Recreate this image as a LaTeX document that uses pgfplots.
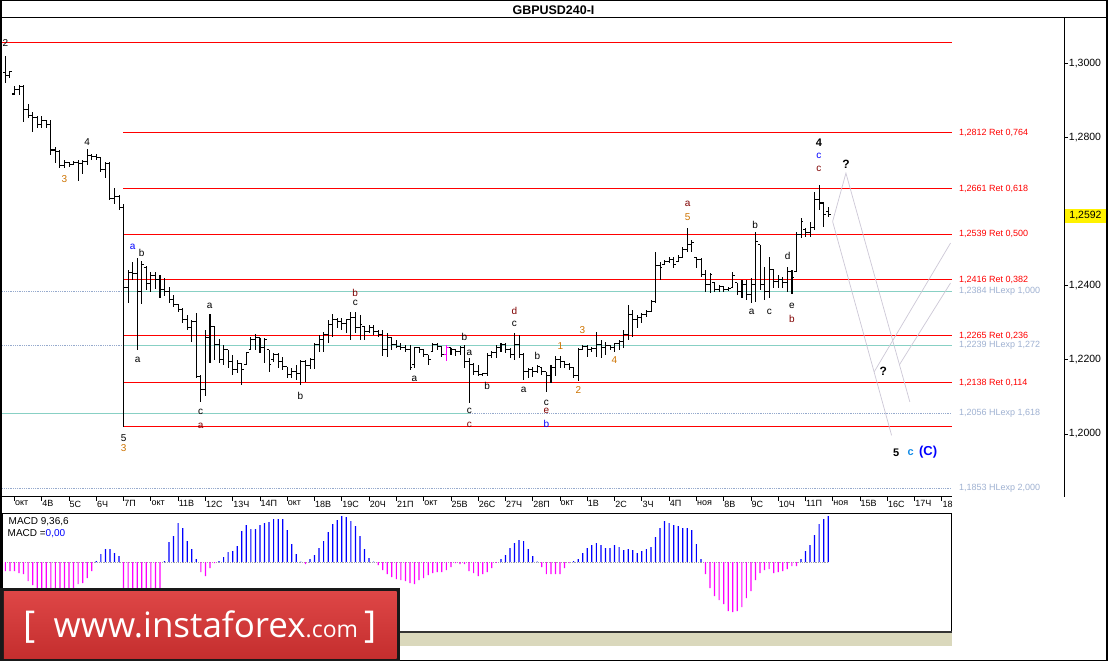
\documentclass[border=0pt]{standalone}
\usepackage{pgfplots}
\pgfplotsset{compat=1.18}
\usepackage{pgfplotstable}
\usepackage{fontspec}
\setmainfont{Liberation Sans}
\newfontfamily\logofont{Open Sans}

\definecolor{fib}{RGB}{255,0,0}
\definecolor{hlx}{RGB}{160,178,210}
\definecolor{teal2}{RGB}{136,208,196}
\definecolor{dotb}{RGB}{150,170,205}
\definecolor{drk}{RGB}{128,0,0}
\definecolor{org}{RGB}{205,115,0}
\definecolor{fc}{RGB}{205,200,215}
\definecolor{mblue}{RGB}{0,0,255}
\definecolor{mmag}{RGB}{255,0,255}
\definecolor{dodg}{RGB}{20,140,230}
\definecolor{logotop}{RGB}{222,70,70}
\definecolor{logobot}{RGB}{196,46,46}
\definecolor{strip}{RGB}{218,216,188}

\newcommand\fs[1]{\fontsize{#1}{#1}\selectfont}
\pgfdeclareplotmark{otick}{\pgfpathmoveto{\pgfqpoint{-2.3pt}{0pt}}\pgfpathlineto{\pgfqpoint{0pt}{0pt}}\pgfusepathqstroke}
\pgfdeclareplotmark{ctick}{\pgfpathmoveto{\pgfqpoint{0pt}{0pt}}\pgfpathlineto{\pgfqpoint{2.3pt}{0pt}}\pgfusepathqstroke}
\newcommand\wl[4]{\node[inner sep=0pt,font=\fs{10},text=black,#3] at (axis cs:{(#1-14)/4.55},{1.31706-#2/3710.7}) {#4};}
\newcommand\fibl[3]{\node[anchor=west,inner sep=0pt,font=\fs{9},text=#3] at (axis cs:207.7,#1) {#2};}

\pgfplotstableread{
i o h l c
-2 1.2974 1.3020 1.2947 1.2966
-1 1.2966 1.2979 1.2960 1.2977
0 1.2917 1.2939 1.2915 1.2928
1 1.2928 1.2942 1.2915 1.2936
2 1.2936 1.2942 1.2842 1.2874
3 1.2874 1.2890 1.2853 1.2858
4 1.2858 1.2869 1.2815 1.2853
5 1.2853 1.2858 1.2826 1.2836
6 1.2836 1.2858 1.2826 1.2845
7 1.2845 1.2847 1.2826 1.2836
8 1.2836 1.2847 1.2753 1.2766
9 1.2766 1.2774 1.2731 1.2761
10 1.2761 1.2766 1.2718 1.2723
11 1.2723 1.2739 1.2718 1.2731
12 1.2731 1.2734 1.2721 1.2726
13 1.2726 1.2737 1.2726 1.2731
14 1.2731 1.2739 1.2683 1.2729
15 1.2729 1.2739 1.2702 1.2734
16 1.2734 1.2769 1.2726 1.2750
17 1.2750 1.2756 1.2739 1.2748
18 1.2748 1.2756 1.2739 1.2745
19 1.2745 1.2748 1.2707 1.2713
20 1.2713 1.2734 1.2691 1.2729
21 1.2729 1.2734 1.2632 1.2634
22 1.2634 1.2664 1.2621 1.2640
23 1.2640 1.2645 1.2605 1.2610
24 1.2610 1.2621 1.2020 1.2394
25 1.2394 1.2443 1.2354 1.2435
26 1.2435 1.2465 1.2416 1.2432
27 1.2432 1.2475 1.2227 1.2384
28 1.2384 1.2467 1.2351 1.2456
29 1.2448 1.2454 1.2389 1.2405
30 1.2405 1.2438 1.2384 1.2427
31 1.2427 1.2438 1.2392 1.2416
32 1.2416 1.2430 1.2368 1.2389
33 1.2389 1.2421 1.2373 1.2384
34 1.2384 1.2397 1.2354 1.2362
35 1.2362 1.2376 1.2343 1.2349
36 1.2349 1.2351 1.2330 1.2335
37 1.2335 1.2341 1.2300 1.2308
38 1.2308 1.2322 1.2281 1.2287
39 1.2287 1.2308 1.2249 1.2303
40 1.2303 1.2327 1.2152 1.2155
41 1.2155 1.2160 1.2087 1.2120
42 1.2120 1.2281 1.2103 1.2260
43 1.2260 1.2324 1.2192 1.2289
44 1.2289 1.2289 1.2200 1.2241
45 1.2241 1.2257 1.2192 1.2200
46 1.2200 1.2241 1.2187 1.2227
47 1.2227 1.2227 1.2179 1.2195
48 1.2195 1.2214 1.2160 1.2173
49 1.2173 1.2200 1.2165 1.2190
50 1.2190 1.2192 1.2133 1.2173
51 1.2187 1.2219 1.2187 1.2219
52 1.2227 1.2262 1.2227 1.2254
53 1.2254 1.2270 1.2227 1.2260
54 1.2260 1.2260 1.2219 1.2233
55 1.2233 1.2260 1.2192 1.2254
56 1.2227 1.2227 1.2168 1.2187
57 1.2200 1.2219 1.2195 1.2214
58 1.2214 1.2219 1.2179 1.2195
59 1.2195 1.2208 1.2173 1.2181
60 1.2181 1.2181 1.2152 1.2160
61 1.2160 1.2179 1.2152 1.2168
62 1.2168 1.2187 1.2146 1.2163
63 1.2163 1.2200 1.2133 1.2195
64 1.2195 1.2200 1.2141 1.2184
65 1.2184 1.2206 1.2176 1.2200
66 1.2200 1.2246 1.2176 1.2241
67 1.2241 1.2268 1.2222 1.2254
68 1.2254 1.2276 1.2222 1.2268
69 1.2268 1.2308 1.2246 1.2295
70 1.2295 1.2324 1.2262 1.2308
71 1.2308 1.2314 1.2287 1.2303
72 1.2303 1.2314 1.2281 1.2297
73 1.2297 1.2308 1.2273 1.2308
74 1.2308 1.2330 1.2254 1.2314
75 1.2314 1.2330 1.2273 1.2287
76 1.2287 1.2322 1.2254 1.2295
77 1.2289 1.2289 1.2254 1.2276
78 1.2276 1.2295 1.2273 1.2287
79 1.2287 1.2295 1.2268 1.2276
80 1.2276 1.2281 1.2262 1.2268
81 1.2268 1.2281 1.2211 1.2227
82 1.2227 1.2273 1.2208 1.2260
83 1.2260 1.2262 1.2227 1.2241
84 1.2241 1.2254 1.2233 1.2235
85 1.2235 1.2246 1.2227 1.2233
86 1.2233 1.2241 1.2222 1.2227
87 1.2227 1.2241 1.2173 1.2179
88 1.2187 1.2235 1.2179 1.2233
89 1.2233 1.2235 1.2219 1.2227
90 1.2227 1.2227 1.2208 1.2214
91 1.2214 1.2214 1.2187 1.2200
92 1.2222 1.2246 1.2222 1.2241
93 1.2241 1.2246 1.2227 1.2235
94 1.2235 1.2235 1.2208 1.2214
96 1.2233 1.2233 1.2214 1.2227
97 1.2227 1.2227 1.2211 1.2222
98 1.2222 1.2238 1.2214 1.2233
99 1.2233 1.2241 1.2179 1.2195
100 1.2195 1.2206 1.2084 1.2187
101 1.2187 1.2192 1.2160 1.2168
102 1.2168 1.2187 1.2157 1.2160
103 1.2160 1.2165 1.2157 1.2163
104 1.2163 1.2219 1.2157 1.2211
105 1.2211 1.2225 1.2206 1.2219
106 1.2219 1.2241 1.2206 1.2233
107 1.2233 1.2246 1.2222 1.2241
108 1.2241 1.2246 1.2219 1.2227
109 1.2227 1.2233 1.2206 1.2214
110 1.2214 1.2273 1.2200 1.2241
111 1.2241 1.2268 1.2206 1.2214
112 1.2214 1.2219 1.2146 1.2168
113 1.2168 1.2179 1.2152 1.2173
114 1.2173 1.2181 1.2155 1.2168
115 1.2168 1.2187 1.2165 1.2181
116 1.2179 1.2179 1.2160 1.2168
117 1.2168 1.2168 1.2112 1.2157
118 1.2157 1.2187 1.2138 1.2179
119 1.2179 1.2211 1.2157 1.2200
120 1.2200 1.2211 1.2179 1.2195
121 1.2195 1.2195 1.2179 1.2187
122 1.2187 1.2192 1.2173 1.2179
123 1.2179 1.2181 1.2152 1.2157
124 1.2157 1.2233 1.2144 1.2227
125 1.2227 1.2241 1.2227 1.2235
126 1.2235 1.2241 1.2208 1.2227
127 1.2227 1.2235 1.2222 1.2230
128 1.2230 1.2276 1.2208 1.2241
129 1.2241 1.2254 1.2206 1.2233
130 1.2233 1.2249 1.2214 1.2238
131 1.2238 1.2241 1.2227 1.2233
132 1.2233 1.2246 1.2222 1.2243
133 1.2243 1.2254 1.2227 1.2249
134 1.2249 1.2281 1.2233 1.2268
135 1.2268 1.2349 1.2254 1.2322
136 1.2322 1.2335 1.2262 1.2308
137 1.2308 1.2322 1.2287 1.2314
138 1.2314 1.2327 1.2300 1.2322
139 1.2322 1.2335 1.2316 1.2330
140 1.2330 1.2362 1.2330 1.2357
141 1.2357 1.2492 1.2354 1.2454
142 1.2454 1.2465 1.2416 1.2448
143 1.2456 1.2470 1.2456 1.2465
144 1.2465 1.2478 1.2462 1.2470
145 1.2470 1.2478 1.2448 1.2456
146 1.2465 1.2483 1.2465 1.2475
147 1.2475 1.2505 1.2475 1.2497
148 1.2497 1.2556 1.2491 1.2510
149 1.2510 1.2524 1.2491 1.2516
150 1.2475 1.2475 1.2448 1.2470
151 1.2470 1.2475 1.2424 1.2430
152 1.2430 1.2443 1.2384 1.2402
153 1.2402 1.2435 1.2381 1.2430
154 1.2408 1.2408 1.2384 1.2389
155 1.2389 1.2402 1.2384 1.2397
156 1.2397 1.2397 1.2384 1.2389
157 1.2389 1.2397 1.2386 1.2392
158 1.2394 1.2438 1.2394 1.2427
159 1.2408 1.2408 1.2376 1.2384
160 1.2384 1.2416 1.2368 1.2402
161 1.2402 1.2416 1.2362 1.2376
162 1.2376 1.2421 1.2354 1.2402
163 1.2402 1.2545 1.2357 1.2518
164 1.2510 1.2510 1.2389 1.2402
165 1.2402 1.2451 1.2362 1.2384
166 1.2384 1.2478 1.2368 1.2443
167 1.2443 1.2443 1.2394 1.2411
168 1.2411 1.2430 1.2394 1.2416
169 1.2416 1.2424 1.2394 1.2408
170 1.2408 1.2451 1.2384 1.2438
171 1.2438 1.2443 1.2378 1.2421
172 1.2438 1.2545 1.2438 1.2537
173 1.2537 1.2583 1.2529 1.2572
174 1.2551 1.2556 1.2532 1.2543
175 1.2543 1.2572 1.2532 1.2556
176 1.2556 1.2653 1.2551 1.2632
177 1.2632 1.2672 1.2605 1.2623
178 1.2623 1.2623 1.2559 1.2591
179 1.2599 1.2613 1.2586 1.2592
}\ohlc

\pgfplotstableread{
i o h l c
95 1.2214 1.2241 1.2198 1.2233
}\ohlcm

\begin{document}
\begin{tikzpicture}[x=1pt,y=1pt]
\fill[white] (0pt,0pt) rectangle (1108pt,662pt);

% ---------------- main price panel ----------------
\begin{axis}[
  at={(2pt,165pt)}, anchor=south west, scale only axis,
  width=1063pt, height=479pt,
  xmin=-2.637, xmax=230.99, ymin=1.18312, ymax=1.31221,
  axis x line=none, axis y line*=right,
  y axis line style={-, black, line width=1pt},
  ytick={1.20,1.22,1.24,1.28,1.30},
  tick align=outside, major tick length=3pt,
  ytick style={black, line width=0.8pt},
  yticklabel={\pgfmathprintnumber[fixed,fixed zerofill,precision=4,use comma,assume math mode=true]{\tick}},
  yticklabel style={font=\fs{10.5}, inner sep=0pt, anchor=west, xshift=1pt},
  clip=false,
]
\addplot[dotb, densely dotted, line width=0.8pt] coordinates {(-2.637,1.2384) (206.15,1.2384)};
\addplot[dotb, densely dotted, line width=0.8pt] coordinates {(-2.637,1.2239) (206.15,1.2239)};
\addplot[dotb, densely dotted, line width=0.8pt] coordinates {(-2.637,1.2056) (206.15,1.2056)};
\addplot[dotb, densely dotted, line width=0.8pt] coordinates {(-2.637,1.1853) (206.15,1.1853)};
\addplot[teal2, line width=1pt] coordinates {(23.96,1.2384) (206.15,1.2384)};
\addplot[teal2, line width=1pt] coordinates {(23.96,1.2239) (206.15,1.2239)};
\addplot[teal2, line width=1pt] coordinates {(-2.637,1.2056) (100.2,1.2056)};
\addplot[fib, line width=1pt] coordinates {(-2.637,1.3055) (206.15,1.3055)};
\addplot[fib, line width=1pt] coordinates {(23.96,1.2812) (206.15,1.2812)};
\addplot[fib, line width=1pt] coordinates {(23.96,1.2661) (206.15,1.2661)};
\addplot[fib, line width=1pt] coordinates {(23.96,1.2539) (206.15,1.2539)};
\addplot[fib, line width=1pt] coordinates {(23.96,1.2416) (206.15,1.2416)};
\addplot[fib, line width=1pt] coordinates {(23.96,1.2265) (206.15,1.2265)};
\addplot[fib, line width=1pt] coordinates {(23.96,1.2138) (206.15,1.2138)};
\addplot[fib, line width=1pt] coordinates {(23.96,1.2020) (206.15,1.2020)};
\addplot[fc, line width=0.7pt] coordinates {(179.93,1.25731) (182.86,1.27036) (196.92,1.20864)};
\addplot[fc, line width=0.7pt] coordinates {(179.93,1.25731) (192.9,1.19964)};
\addplot[fc, line width=0.7pt] coordinates {(189.1,1.21681) (205.86,1.25149)};
\addplot[fc, line width=0.7pt] coordinates {(194.64,1.21870) (205.86,1.24071)};
\addplot[only marks, mark=otick, black, line width=1.05pt,
  error bars/.cd, y dir=both, y explicit, error mark=none,
  error bar style={black, solid, line width=1.05pt}]
  table[x=i, y=o, y error plus expr=\thisrow{h}-\thisrow{o}, y error minus expr=\thisrow{o}-\thisrow{l}] {\ohlc};
\addplot[only marks, mark=ctick, black, line width=1.05pt] table[x=i, y=c] {\ohlc};
\addplot[only marks, mark=otick, mmag, line width=1.05pt,
  error bars/.cd, y dir=both, y explicit, error mark=none,
  error bar style={mmag, solid, line width=1.05pt}]
  table[x=i, y=o, y error plus expr=\thisrow{h}-\thisrow{o}, y error minus expr=\thisrow{o}-\thisrow{l}] {\ohlcm};
\addplot[only marks, mark=ctick, mmag, line width=1.05pt] table[x=i, y=c] {\ohlcm};

\fibl{1.2812}{1,2812 Ret 0,764}{fib}
\fibl{1.2661}{1,2661 Ret 0,618}{fib}
\fibl{1.2539}{1,2539 Ret 0,500}{fib}
\fibl{1.2416}{1,2416 Ret 0,382}{fib}
\fibl{1.2384}{1,2384 HLexp 1,000}{hlx}
\fibl{1.2265}{1,2265 Ret 0,236}{fib}
\fibl{1.2239}{1,2239 HLexp 1,272}{hlx}
\fibl{1.2138}{1,2138 Ret 0,114}{fib}
\fibl{1.2056}{1,2056 HLexp 1,618}{hlx}
\fibl{1.1853}{1,1853 HLexp 2,000}{hlx}

\wl{5}{43}{}{2}
\wl{86.7}{142}{}{4}
\wl{64}{179.3}{text=org}{3}
\wl{132.3}{246.7}{text=mblue}{a}
\wl{141.3}{252.7}{}{b}
\wl{137.3}{360.5}{}{a}
\wl{123.3}{438.3}{}{5}
\wl{123.3}{448.3}{text=org}{3}
\wl{209.3}{305.7}{}{a}
\wl{200.3}{412.3}{}{c}
\wl{200.3}{426.7}{text=drk}{a}
\wl{300}{396.7}{}{b}
\wl{355}{293.3}{text=drk}{b}
\wl{355}{302.7}{}{c}
\wl{414.3}{379.5}{}{a}
\wl{464.3}{337.7}{}{b}
\wl{469.3}{352.7}{}{a}
\wl{469.3}{411.7}{}{c}
\wl{469.3}{425.7}{text=drk}{c}
\wl{487}{386.7}{}{b}
\wl{514.3}{311.7}{text=drk}{d}
\wl{514.3}{324.3}{}{c}
\wl{523.5}{390}{}{a}
\wl{537.3}{356}{}{b}
\wl{546.2}{403.3}{}{c}
\wl{546.2}{411.7}{text=drk}{e}
\wl{546.2}{424}{text=mblue}{b}
\wl{560.3}{346}{text=org}{1}
\wl{578.3}{390}{text=org}{2}
\wl{582.3}{330.5}{text=org}{3}
\wl{614.3}{360.5}{text=org}{4}
\wl{687.7}{204.3}{text=drk}{a}
\wl{687.7}{217.7}{text=org}{5}
\wl{751.7}{311.7}{}{a}
\wl{755.3}{225}{}{b}
\wl{769.3}{311.7}{}{c}
\wl{787.7}{256}{}{d}
\wl{792}{305.7}{}{e}
\wl{792}{319.3}{text=drk}{b}
\wl{819}{142.7}{font=\bfseries\fs{11}}{4}
\wl{819}{156.5}{text=mblue}{c}
\wl{819}{169}{text=drk}{c}
\wl{846.2}{164.3}{font=\bfseries\fs{12}}{?}
\wl{883.3}{371.5}{font=\bfseries\fs{12}}{?}
\wl{896.3}{453.5}{font=\bfseries\fs{11}}{5}
\wl{910.7}{453.5}{text=dodg,font=\bfseries\fs{11}}{c}
\wl{928.3}{453}{text=mblue,font=\bfseries\fs{13}}{(C)}
\end{axis}

% ---------------- date axis ----------------
\begin{axis}[
  at={(2pt,165pt)}, anchor=south west, scale only axis,
  width=950pt, height=10pt,
  xmin=-2.637, xmax=206.15, ymin=0, ymax=1,
  axis x line*=bottom, axis y line=none,
  x axis line style={-, black, line width=1pt},
  xtick={0,6,...,204},
  xticklabels={окт,4В,5С,6Ч,7П,окт,11В,12С,13Ч,14П,окт,18В,19С,20Ч,21П,окт,25В,26С,27Ч,28П,окт,1В,2С,3Ч,4П,ноя,8В,9С,10Ч,11П,ноя,15В,16С,17Ч,18},
  tick align=outside, major tick length=4pt,
  xtick style={black, line width=0.8pt},
  xticklabel style={font=\fs{9}, anchor=north west, inner sep=0pt, xshift=0.5pt},
]
\addplot[draw=none] coordinates {(0,0.5)};
\end{axis}

% ---------------- MACD panel ----------------
\begin{axis}[
  at={(2pt,30pt)}, anchor=south west, scale only axis,
  width=950pt, height=118pt,
  xmin=-2.637, xmax=206.15, ymin=-69.3, ymax=48.7,
  xtick=\empty, ytick=\empty,
  axis line style={black, line width=1pt},
]
\addplot[gray!70, densely dotted, line width=0.8pt] coordinates {(-2,0) (179,0)};
\addplot[ybar, bar width=1.2pt, bar shift=0pt, fill=mblue, draw=none] coordinates {
(18,1) (19,8) (20,13) (21,13) (22,9) (23,6)
(33,1) (34,20) (35,26) (36,39) (37,34) (38,21) (39,13) (40,3)
(45,1) (46,5) (47,10) (48,11) (49,16) (50,31) (51,37) (52,33) (53,33) (54,37) (55,39) (56,40) (57,43) (58,43) (59,43) (60,32) (61,18) (62,8) (63,0.6)
(65,3) (66,7) (67,14) (68,21) (69,30) (70,38) (71,42) (72,46) (73,45) (74,41) (75,36) (76,26) (77,13) (78,4) (79,0.6)
(107,3) (108,7) (109,14) (110,19) (111,22) (112,21) (113,13) (114,6) (115,0.6)
(123,1) (124,3) (125,9) (126,14) (127,17) (128,19) (129,17) (130,14) (131,14) (132,17) (133,15) (134,12) (135,13) (136,12) (137,9) (138,11) (139,13) (140,15) (141,25) (142,34) (143,41) (144,39) (145,37) (146,36) (147,34) (148,34) (149,32) (150,18) (151,3)
(173,3) (174,11) (175,17) (176,27) (177,38) (178,43) (179,46)
};
\addplot[ybar, bar width=1.2pt, bar shift=0pt, fill=mmag, draw=none] coordinates {
(-2,-9) (-1,-9) (0,-9) (1,-11) (2,-12) (3,-19) (4,-23) (5,-27) (6,-30) (7,-32) (8,-34) (9,-34) (10,-32) (11,-30) (12,-28) (13,-26) (14,-22) (15,-21) (16,-16) (17,-9)
(24,-30) (25,-35) (26,-38) (27,-40) (28,-40) (29,-38) (30,-35) (31,-32) (32,-28)
(41,-10) (42,-14) (43,-6) (44,-1)
(64,-2)
(80,-3) (81,-8) (82,-12) (83,-15) (84,-17) (85,-18) (86,-19) (87,-21) (88,-22) (89,-18) (90,-16) (91,-13) (92,-11) (93,-10) (94,-10) (95,-8) (96,-5) (97,-1) (98,-2) (99,-2) (100,-9) (101,-11) (102,-14) (103,-12) (104,-10) (105,-6) (106,-0.6)
(116,-5) (117,-12) (118,-12) (119,-12) (120,-12) (121,-6) (122,-1)
(152,-12) (153,-26) (154,-34) (155,-38) (156,-42) (157,-49) (158,-50) (159,-49) (160,-45) (161,-36) (162,-29) (163,-18) (164,-11) (165,-8) (166,-7) (167,-11) (168,-10) (169,-9) (170,-7) (171,-4) (172,-4)
};
\end{axis}
\node[anchor=west, inner sep=0pt, font=\fs{10}] at (8pt,140pt) {MACD 9,36,6};
\node[anchor=west, inner sep=0pt, font=\fs{10}] at (7pt,128pt) {MACD =\textcolor{mblue}{0,00}};

\fill[strip] (399pt,15pt) rectangle (952pt,30pt);
\draw[black!80, line width=2pt] (399pt,29pt) -- (952pt,29pt);

\draw[black, line width=1pt] (0pt,644pt) -- (1108pt,644pt);
\node[font=\bfseries\fs{12.5}] at (553.5pt,652pt) {GBPUSD240-I};
\fill[yellow] (1065pt,439pt) rectangle (1107pt,453pt);
\node[font=\fs{10.5}, inner sep=0pt] at (1086pt,446pt) {1,2592};
\draw[black, line width=1.2pt] (0.6pt,0.6pt) rectangle (1107.4pt,661.4pt);

\fill[black!90] (0pt,0pt) rectangle (400pt,73pt);
\shade[top color=logotop, bottom color=logobot] (3.5pt,3pt) rectangle (396.5pt,69.5pt);
\node[anchor=base west, inner sep=0pt, text=white, font=\logofont\fs{37}] at (23pt,24pt) {[};
\node[anchor=base west, inner sep=0pt, text=white, font=\logofont\fs{35}] at (53pt,24pt) {www.instaforex{\fs{23}.com}};
\node[anchor=base west, inner sep=0pt, text=white, font=\logofont\fs{37}] at (364pt,24pt) {]};
\end{tikzpicture}
\end{document}
